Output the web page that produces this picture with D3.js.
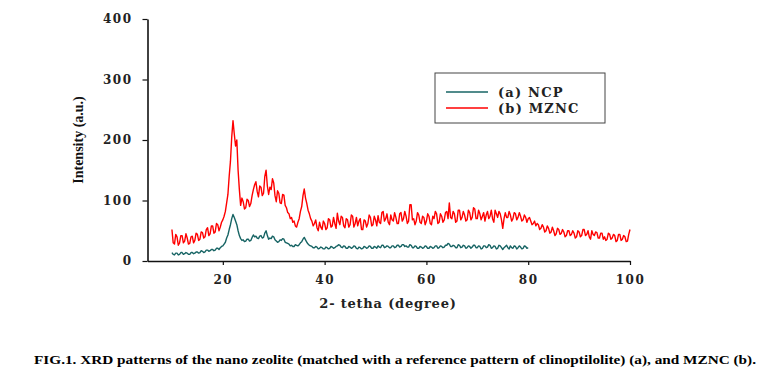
<!DOCTYPE html>
<html>
<head>
<meta charset="utf-8">
<script src="https://cdn.jsdelivr.net/npm/d3@7"></script>
<style>
  body { margin: 0; background: #fff; }
  svg { display: block; }
</style>
</head>
<body>
<div id="chart"></div>
<script>
// scan settings (2-theta, degrees)
const thetaStart = 10;
const thetaStep = 0.25;

// (a) NCP, 10..80 deg, one row = 5 deg
const ncp = [
  14, 11, 10, 13, 13, 10, 11, 14, 14, 11, 12, 14, 13, 11, 11, 14, 14, 12, 13, 15,
  15, 13, 14, 17, 16, 14, 15, 18, 18, 16, 17, 19, 19, 17, 18, 21, 21, 19, 22, 24,
  25, 28, 31, 38, 43, 52, 60, 70, 77, 72, 66, 60, 50, 42, 37, 34, 35, 32, 33, 36,
  36, 33, 34, 39, 43, 40, 41, 38, 37, 41, 42, 38, 39, 46, 50, 42, 36, 38, 37, 41,
  40, 35, 33, 31, 32, 35, 34, 37, 36, 31, 30, 29, 28, 25, 26, 24, 24, 27, 26, 25,
  27, 30, 32, 36, 39, 35, 31, 28, 26, 25, 24, 22, 22, 24, 23, 20, 21, 23, 22, 20,
  20, 23, 22, 20, 21, 24, 23, 21, 22, 24, 25, 27, 26, 23, 22, 25, 24, 21, 21, 24,
  23, 21, 22, 25, 24, 21, 20, 23, 22, 20, 21, 24, 23, 21, 22, 25, 24, 21, 21, 24,
  23, 21, 25, 23, 22, 26, 26, 22, 23, 25, 24, 22, 22, 25, 25, 22, 23, 26, 26, 23,
  24, 27, 27, 24, 25, 23, 23, 27, 26, 22, 22, 25, 24, 21, 21, 24, 23, 21, 22, 25,
  24, 21, 21, 24, 23, 21, 22, 25, 25, 21, 22, 25, 24, 22, 23, 26, 26, 29, 28, 24,
  24, 26, 25, 22, 22, 27, 26, 22, 23, 26, 25, 21, 22, 25, 24, 21, 23, 26, 26, 22,
  22, 25, 24, 20, 21, 25, 25, 22, 23, 27, 26, 21, 22, 25, 24, 20, 21, 26, 25, 22,
  19, 22, 24, 26, 22, 20, 25, 22, 21, 25, 24, 20, 22, 25, 23, 20, 21, 25, 24, 21,
  22
];

// (b) MZNC, 10..100 deg, one row = 5 deg
const mznc = [
  52, 30, 28, 44, 40, 26, 30, 42, 42, 30, 33, 45, 38, 28, 29, 40, 41, 30, 34, 46,
  44, 34, 36, 48, 47, 38, 40, 52, 55, 42, 45, 58, 58, 46, 48, 62, 60, 50, 56, 64,
  68, 74, 82, 96, 110, 140, 165, 205, 232, 210, 190, 200, 150, 118, 92, 104, 98, 86, 88, 102,
  100, 90, 95, 108, 118, 126, 131, 115, 106, 124, 122, 108, 112, 140, 150, 124, 110, 122, 118, 136,
  129, 108, 98, 116, 112, 96, 95, 110, 109, 92, 88, 80, 78, 70, 72, 64, 66, 58, 56, 64,
  70, 82, 90, 108, 119, 104, 95, 84, 78, 70, 66, 58, 62, 68, 55, 50, 64, 56, 52, 66,
  62, 52, 55, 70, 68, 56, 58, 72, 62, 54, 79, 66, 60, 74, 72, 58, 55, 70, 68, 56,
  60, 76, 74, 56, 62, 72, 58, 66, 70, 52, 52, 68, 66, 56, 62, 76, 72, 58, 60, 74,
  68, 58, 75, 64, 62, 80, 82, 66, 70, 78, 64, 60, 76, 68, 66, 80, 72, 62, 62, 78,
  80, 66, 70, 82, 74, 62, 66, 93, 93, 68, 70, 60, 66, 80, 76, 64, 62, 74, 72, 60,
  66, 78, 74, 62, 60, 74, 70, 82, 78, 62, 64, 78, 74, 64, 68, 80, 82, 70, 96, 72,
  70, 82, 78, 64, 66, 84, 84, 68, 72, 82, 76, 66, 68, 84, 80, 68, 72, 88, 86, 70,
  70, 84, 78, 68, 74, 80, 66, 76, 82, 70, 74, 84, 70, 64, 84, 78, 72, 82, 78, 68,
  54, 70, 80, 72, 72, 82, 76, 66, 70, 80, 78, 68, 72, 80, 74, 66, 68, 76, 72, 64,
  70, 72, 66, 60, 62, 66, 58, 62, 60, 52, 54, 60, 56, 48, 50, 58, 54, 46, 48, 56,
  50, 42, 45, 54, 52, 44, 46, 52, 48, 40, 42, 50, 50, 42, 44, 50, 46, 38, 40, 50,
  48, 40, 42, 52, 52, 42, 44, 50, 40, 36, 50, 44, 42, 48, 47, 38, 38, 46, 46, 36,
  40, 34, 36, 46, 44, 36, 38, 44, 42, 32, 34, 44, 44, 34, 36, 42, 40, 32, 33, 44,
  52
];

const seriesNames = ["(a) NCP", "(b) MZNC"];
const seriesColors = ["#176464", "#ff0000"];
const xTicks = [20, 40, 60, 80, 100];
const yTicks = [0, 100, 200, 300, 400];

const svg = d3.select("#chart").append("svg")
  .attr("width", 778)
  .attr("height", 382);

const x = d3.scaleLinear().domain([5.2, 100]).range([147.5, 630]);
const y = d3.scaleLinear().domain([0, 400]).range([261, 19]);

const toPoints = vals => vals.map((v, i) => [thetaStart + i * thetaStep, v]);

const line = d3.line()
  .x(d => x(d[0]))
  .y(d => y(d[1]));

[ncp, mznc].forEach((vals, k) => {
  svg.append("path")
    .datum(toPoints(vals))
    .attr("fill", "none")
    .attr("stroke", seriesColors[k])
    .attr("stroke-width", 1.4)
    .attr("stroke-linejoin", "round")
    .attr("d", line);
});

// axes
const tickFont = g => g.selectAll("text")
  .attr("font-family", "DejaVu Serif")
  .attr("font-weight", "bold")
  .attr("font-size", 12)
  .attr("letter-spacing", 1.5)
  .attr("fill", "#222");

svg.append("g")
  .attr("transform", "translate(0,261)")
  .call(d3.axisBottom(x).tickValues(xTicks).tickSize(4).tickSizeOuter(0).tickPadding(10))
  .call(g => g.select(".domain").attr("stroke", "#111").attr("stroke-width", 1.6))
  .call(g => g.selectAll(".tick line").attr("stroke", "#111").attr("stroke-width", 1.2))
  .call(tickFont);

svg.append("g")
  .attr("transform", "translate(147.5,0)")
  .call(d3.axisLeft(y).tickValues(yTicks).tickSize(5).tickSizeOuter(0).tickPadding(10))
  .call(g => g.select(".domain").attr("stroke", "#111").attr("stroke-width", 1.6))
  .call(g => g.selectAll(".tick line").attr("stroke", "#111").attr("stroke-width", 1.2))
  .call(tickFont);

// axis titles
svg.append("text")
  .attr("x", 388)
  .attr("y", 308)
  .attr("text-anchor", "middle")
  .attr("font-family", "DejaVu Serif")
  .attr("font-weight", "bold")
  .attr("font-size", 13)
  .attr("letter-spacing", 0.8)
  .attr("fill", "#222")
  .text("2- tetha (degree)");

svg.append("text")
  .attr("transform", "translate(83,140) rotate(-90)")
  .attr("text-anchor", "middle")
  .attr("font-family", "Liberation Serif")
  .attr("font-weight", "bold")
  .attr("font-size", 14)
  .attr("fill", "#111")
  .text("Intensity (a.u.)");

// legend
const legend = svg.append("g");
legend.append("rect")
  .attr("x", 435).attr("y", 73)
  .attr("width", 170).attr("height", 50)
  .attr("fill", "#fff")
  .attr("stroke", "#444")
  .attr("stroke-width", 1);

seriesNames.forEach((name, k) => {
  const ly = 92 + k * 16;
  legend.append("line")
    .attr("x1", 446).attr("x2", 488)
    .attr("y1", ly).attr("y2", ly)
    .attr("stroke", seriesColors[k])
    .attr("stroke-width", 1.5);
  legend.append("text")
    .attr("x", 498).attr("y", ly + 4.5)
    .attr("font-family", "DejaVu Serif")
    .attr("font-weight", "bold")
    .attr("font-size", 13)
    .attr("letter-spacing", 1.2)
    .attr("fill", "#222")
    .text(name);
});

// caption
svg.append("text")
  .attr("x", 34)
  .attr("y", 364)
  .attr("font-family", "Liberation Serif")
  .attr("font-weight", "bold")
  .attr("font-size", 12.5)
  .attr("textLength", 722)
  .attr("lengthAdjust", "spacingAndGlyphs")
  .attr("fill", "#000")
  .text("FIG.1. XRD patterns of the nano zeolite (matched with a reference pattern of clinoptilolite) (a), and MZNC (b).");
</script>
</body>
</html>
